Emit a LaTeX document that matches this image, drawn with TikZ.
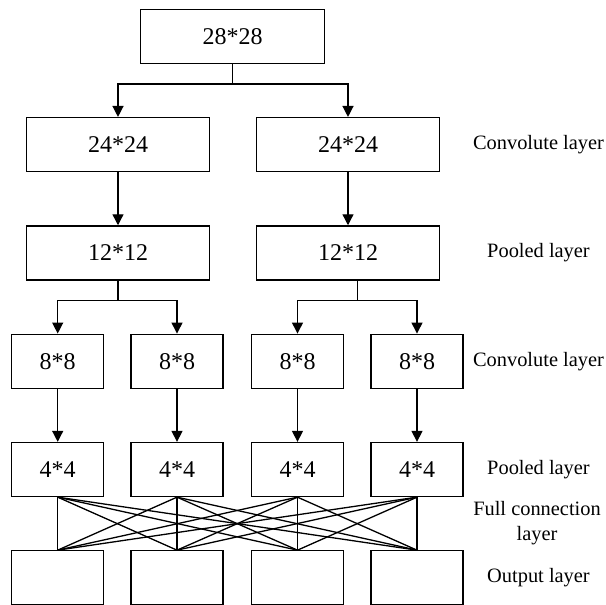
\documentclass[tikz,border=0pt]{standalone}
\usepackage{fontspec}
\setmainfont{Liberation Serif}
\usetikzlibrary{arrows.meta}
\usetikzlibrary{positioning}

\begin{document}
\begin{tikzpicture}[x=0.5pt, y=-0.5pt, line width=0.65pt,
    box/.style={draw, inner sep=0pt, minimum width=91.75pt, minimum height=27pt, font=\fontsize{12}{14}\selectfont},
    smallbox/.style={box, minimum width=46pt},
    tag/.style={align=center, font=\fontsize{10.2}{12.5}\selectfont},
    arr/.style={-{Triangle[length=5.5pt, width=5.5pt]}}]
    \useasboundingbox (0,0) rectangle (605,605);

    % input and first convolution / pooling
    \node[box] (in) at (232.5,36.3) {28*28};
    \node[box] (c1a) at (118,144.6) {24*24};
    \node[box] (c1b) at (348,144.6) {24*24};
    \node[box] (p1a) at (118,252.9) {12*12};
    \node[box] (p1b) at (348,252.9) {12*12};

    % second convolution / pooling and output
    \node[smallbox] (c2a) at (57.7,361.2) {8*8};
    \node[smallbox] (c2b) at (177,361.2) {8*8};
    \node[smallbox] (c2c) at (297.5,361.2) {8*8};
    \node[smallbox] (c2d) at (417,361.2) {8*8};
    \node[smallbox] (p2a) at (57.7,469.5) {4*4};
    \node[smallbox] (p2b) at (177,469.5) {4*4};
    \node[smallbox] (p2c) at (297.5,469.5) {4*4};
    \node[smallbox] (p2d) at (417,469.5) {4*4};
    \node[smallbox] (o1) at (57.7,577.8) {};
    \node[smallbox] (o2) at (177,577.8) {};
    \node[smallbox] (o3) at (297.5,577.8) {};
    \node[smallbox] (o4) at (417,577.8) {};

    % branches
    \coordinate (j0) at ([yshift=-10pt]in.south);
    \draw (in.south) -- (j0);
    \draw[arr] (j0) -| (c1a.north);
    \draw[arr] (j0) -| (c1b.north);
    \draw[arr] (c1a) -- (p1a);
    \draw[arr] (c1b) -- (p1b);

    \coordinate (j1) at ([yshift=-10pt]p1a.south);
    \draw (p1a.south) -- (j1);
    \draw[arr] (j1) -| (c2a.north);
    \draw[arr] (j1) -| (c2b.north);
    \coordinate (j2) at ([xshift=4.6pt, yshift=-10pt]p1b.south);
    \draw ([xshift=4.6pt]p1b.south) -- (j2);
    \draw[arr] (j2) -| (c2c.north);
    \draw[arr] (j2) -| (c2d.north);

    \foreach \i in {a,b,c,d}
        \draw[arr] (c2\i) -- (p2\i);

    % full connection
    \foreach \i in {a,b,c,d}
        \foreach \j in {1,2,3,4}
            \draw (p2\i.south) -- (o\j.north);

    % layer names
    \node[tag] (t1) at (538.5,144.6) {Convolute layer};
    \node[tag] (t2) at (538.5,252.9) {Pooled layer};
    \node[tag] (t3) at (538.5,361.2) {Convolute layer};
    \node[tag] (t4) at (538.5,469.5) {Pooled layer};
    \node[tag] (t5) at (537,523.5) {Full connection\\layer};
    \node[tag] (t6) at (538.5,577.8) {Output layer};
\end{tikzpicture}
\end{document}
